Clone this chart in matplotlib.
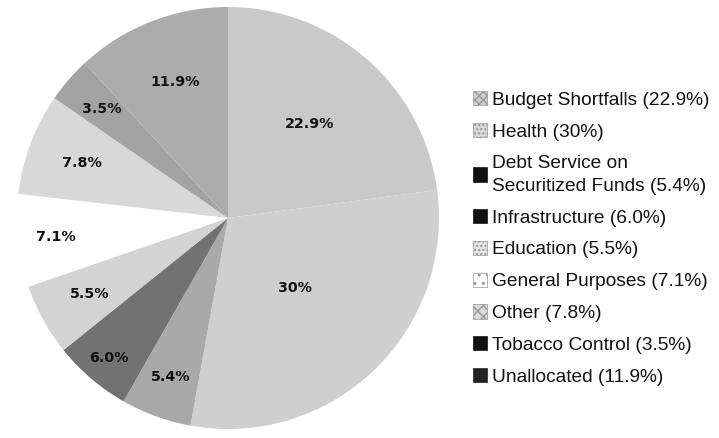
import numpy as np
import matplotlib.pyplot as plt
from matplotlib.patches import Patch

# Veriler (saat yönünde, tepeden başlayarak)
categories = ['Budget Shortfalls', 'Health', 'Debt Service on\nSecuritized Funds',
              'Infrastructure', 'Education', 'General Purposes', 'Other',
              'Tobacco Control', 'Unallocated']
shares = [22.9, 30.0, 5.4, 6.0, 5.5, 7.1, 7.8, 3.5, 11.9]
pct_labels = ['22.9%', '30%', '5.4%', '6.0%', '5.5%', '7.1%', '7.8%', '3.5%', '11.9%']
legend_pct = ['22.9%', '30%', '5.4%', '6.0%', '5.5%', '7.1%', '7.8%', '3.5%', '11.9%']

# Stil
wedge_colors = ['#c9c9c9', '#cfcfcf', '#a9a9a9', '#727272', '#d3d3d3',
                '#ffffff', '#d8d8d8', '#a3a3a3', '#acacac']
label_dist = [0.59, 0.46, 0.80, 0.87, 0.75, 0.82, 0.74, 0.79, 0.69]
swatch_colors = ['#d0d0d0', '#d8d8d8', '#111111', '#111111', '#e2e2e2',
                 '#ffffff', '#dadada', '#111111', '#222222']
swatch_hatch = ['xxxx', '....', None, None, '....', '..', 'xxx', None, None]

fig = plt.figure(figsize=(7.19, 4.38), dpi=100)
ax = fig.add_axes([17 / 719, 9 / 438, 422 / 719, 422 / 438])

wedges, _ = ax.pie(shares, colors=wedge_colors, startangle=90, counterclock=False,
                   radius=1.0, wedgeprops=dict(linewidth=0))
ax.set_xlim(-1, 1)
ax.set_ylim(-1, 1)
ax.set_aspect('equal')
ax.axis('off')

# Yüzde etiketleri
for w, lab, d in zip(wedges, pct_labels, label_dist):
    ang = np.deg2rad((w.theta1 + w.theta2) / 2)
    ax.text(d * np.cos(ang), d * np.sin(ang), lab, ha='center', va='center',
            fontsize=10.3, fontweight='bold', color='#111111', family='DejaVu Sans')

# Lejant
handles = []
for c, h in zip(swatch_colors, swatch_hatch):
    handles.append(Patch(facecolor=c, hatch=h, edgecolor='#999999' if h else c, linewidth=0.5))
labels = [f'{n} ({p})' for n, p in zip(categories, legend_pct)]
leg = fig.legend(handles, labels, loc='upper left', bbox_to_anchor=(473 / 719, 1 - 91 / 438),
                 frameon=False, prop={'family': 'Liberation Sans', 'size': 13.8},
                 borderpad=0, borderaxespad=0,
                 handlelength=0.75, handleheight=0.75, handletextpad=0.25, labelspacing=0.74)
for t in leg.get_texts():
    t.set_linespacing(1.45)
    t.set_color('#111111')

plt.savefig('out.png', dpi=100)
